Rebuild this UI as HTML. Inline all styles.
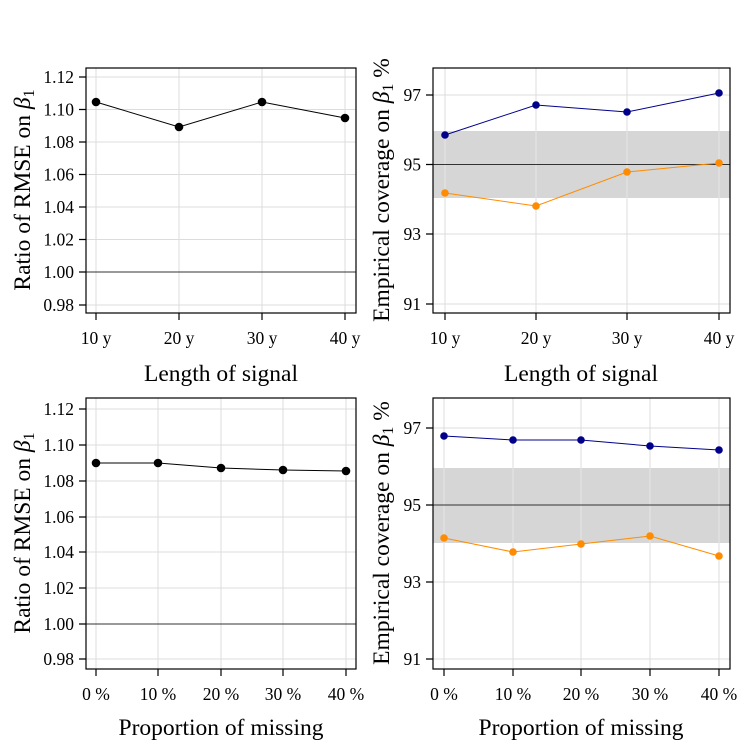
<!DOCTYPE html>
<html><head><meta charset="utf-8"><style>
html,body{margin:0;padding:0;background:#fff}
svg{display:block;font-family:"Liberation Serif",serif}
</style></head><body>
<svg width="747" height="747" viewBox="0 0 747 747" xmlns="http://www.w3.org/2000/svg">
<g stroke="#dcdcdc" stroke-width="1" fill="none">
<path d="M86 77H356M86 109.5H356M86 142H356M86 174.5H356M86 207H356M86 239.5H356M86 305H356M96 68V313M179 68V313M262 68V313M345 68V313"/>
<path d="M433 95H730M433 234H730M433 304H730M445 68V313M536 68V313M627 68V313M719 68V313"/>
<path d="M86 409H356M86 445H356M86 481H356M86 517H356M86 552H356M86 588H356M86 659H356M96 398V669M158 398V669M221 398V669M283 398V669M346 398V669"/>
<path d="M433 428H730M433 582H730M433 659H730M444 398V669M513 398V669M581 398V669M650 398V669M719 398V669"/>
</g>
<rect x="433" y="131" width="297" height="67" fill="#d6d6d6"/>
<rect x="433" y="468" width="297" height="75" fill="#d6d6d6"/>
<g stroke="#e6e6e6"><path d="M445 131V198M536 131V198M627 131V198M719 131V198M444 468V543M513 468V543M581 468V543M650 468V543M719 468V543"/></g>
<g stroke="#333" stroke-width="1">
<path d="M86 272H356M433 164.5H730M86 624H356M433 505H730"/>
</g>
<g fill="none" stroke="#000" stroke-width="1.2">
<rect x="86" y="68" width="270" height="245"/>
<rect x="433" y="68" width="297" height="245"/>
<rect x="86" y="398" width="270" height="271"/>
<rect x="433" y="398" width="297" height="271"/>
<path d="M79 77H86M79 109.5H86M79 142H86M79 174.5H86M79 207H86M79 239.5H86M79 272H86M79 305H86"/>
<path d="M96 313V320M179 313V320M262 313V320M345 313V320"/>
<path d="M426 95H433M426 164.5H433M426 234H433M426 304H433"/>
<path d="M445 313V320M536 313V320M627 313V320M719 313V320"/>
<path d="M79 409H86M79 445H86M79 481H86M79 517H86M79 552H86M79 588H86M79 624H86M79 659H86"/>
<path d="M96 669V676M158 669V676M221 669V676M283 669V676M346 669V676"/>
<path d="M426 428H433M426 505H433M426 582H433M426 659H433"/>
<path d="M444 669V676M513 669V676M581 669V676M650 669V676M719 669V676"/>
</g>
<g stroke="#000" stroke-width="1" fill="#000">
<polyline fill="none" points="96,102 179,127 262,102 345,118"/>
<circle cx="96" cy="102" r="3.8"/><circle cx="179" cy="127" r="3.8"/><circle cx="262" cy="102" r="3.8"/><circle cx="345" cy="118" r="3.8"/>
<polyline fill="none" points="96,463 158,463 221,468 283,470 346,471"/>
<circle cx="96" cy="463" r="3.8"/><circle cx="158" cy="463" r="3.8"/><circle cx="221" cy="468" r="3.8"/><circle cx="283" cy="470" r="3.8"/><circle cx="346" cy="471" r="3.8"/>
</g>
<g stroke="#00008b" stroke-width="1" fill="#00008b">
<polyline fill="none" points="445,135 536,105 627,112 719,93"/>
<circle cx="445" cy="135" r="3.3"/><circle cx="536" cy="105" r="3.3"/><circle cx="627" cy="112" r="3.3"/><circle cx="719" cy="93" r="3.3"/>
<polyline fill="none" points="444,436 513,440 581,440 650,446 719,450"/>
<circle cx="444" cy="436" r="3.3"/><circle cx="513" cy="440" r="3.3"/><circle cx="581" cy="440" r="3.3"/><circle cx="650" cy="446" r="3.3"/><circle cx="719" cy="450" r="3.3"/>
</g>
<g stroke="#ff8c00" stroke-width="1" fill="#ff8c00">
<polyline fill="none" points="445,193 536,206 627,172 719,163"/>
<circle cx="445" cy="193" r="3.3"/><circle cx="536" cy="206" r="3.3"/><circle cx="627" cy="172" r="3.3"/><circle cx="719" cy="163" r="3.3"/>
<polyline fill="none" points="444,538 513,552 581,544 650,536 719,556"/>
<circle cx="444" cy="538" r="3.3"/><circle cx="513" cy="552" r="3.3"/><circle cx="581" cy="544" r="3.3"/><circle cx="650" cy="536" r="3.3"/><circle cx="719" cy="556" r="3.3"/>
</g>
<g font-size="17.5" fill="#000" text-anchor="end">
<text x="74" y="83">1.12</text><text x="74" y="115.5">1.10</text><text x="74" y="148">1.08</text><text x="74" y="180.5">1.06</text><text x="74" y="213">1.04</text><text x="74" y="245.5">1.02</text><text x="74" y="278">1.00</text><text x="74" y="311">0.98</text>
<text x="421" y="101">97</text><text x="421" y="170.5">95</text><text x="421" y="240">93</text><text x="421" y="310">91</text>
<text x="74" y="415">1.12</text><text x="74" y="451">1.10</text><text x="74" y="487">1.08</text><text x="74" y="523">1.06</text><text x="74" y="558">1.04</text><text x="74" y="594">1.02</text><text x="74" y="630">1.00</text><text x="74" y="665">0.98</text>
<text x="421" y="434">97</text><text x="421" y="511">95</text><text x="421" y="588">93</text><text x="421" y="665">91</text>
</g>
<g font-size="17.5" fill="#000" text-anchor="middle">
<text x="96" y="344">10 y</text><text x="179" y="344">20 y</text><text x="262" y="344">30 y</text><text x="345" y="344">40 y</text>
<text x="445" y="344">10 y</text><text x="536" y="344">20 y</text><text x="627" y="344">30 y</text><text x="719" y="344">40 y</text>
<text x="96" y="700">0 %</text><text x="158" y="700">10 %</text><text x="221" y="700">20 %</text><text x="283" y="700">30 %</text><text x="346" y="700">40 %</text>
<text x="444" y="700">0 %</text><text x="513" y="700">10 %</text><text x="581" y="700">20 %</text><text x="650" y="700">30 %</text><text x="719" y="700">40 %</text>
</g>
<g font-size="23.5" fill="#000" text-anchor="middle">
<text x="221" y="381">Length of signal</text>
<text x="581" y="381">Length of signal</text>
<text x="221" y="735">Proportion of missing</text>
<text x="581" y="735">Proportion of missing</text>
<text transform="translate(30,190) rotate(-90)">Ratio of RMSE on <tspan font-style="italic">β</tspan><tspan font-size="16" dy="4">1</tspan></text>
<text transform="translate(389,190) rotate(-90)">Empirical coverage on <tspan font-style="italic">β</tspan><tspan font-size="16" dy="4">1</tspan><tspan dy="-4"> %</tspan></text>
<text transform="translate(30,533) rotate(-90)">Ratio of RMSE on <tspan font-style="italic">β</tspan><tspan font-size="16" dy="4">1</tspan></text>
<text transform="translate(389,533) rotate(-90)">Empirical coverage on <tspan font-style="italic">β</tspan><tspan font-size="16" dy="4">1</tspan><tspan dy="-4"> %</tspan></text>
</g>
</svg>
</body></html>
